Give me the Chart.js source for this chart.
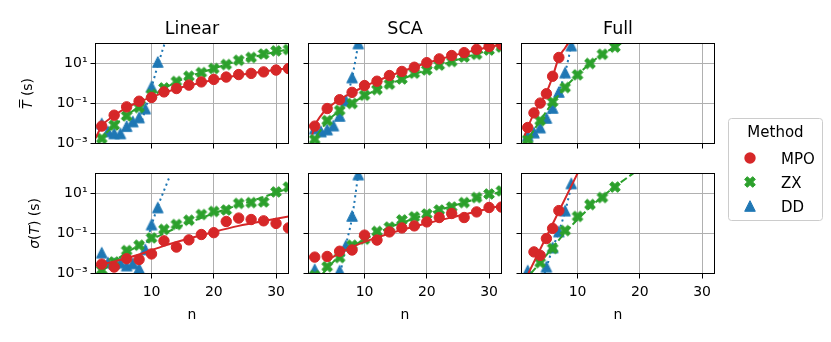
<!DOCTYPE html>
<html>
<head>
<meta charset="utf-8">
<script src="https://cdn.jsdelivr.net/npm/chart.js@4.4.1/dist/chart.umd.min.js"></script>
<style>
  body { margin: 0; background: #fff; }
  #wrap { position: relative; width: 831px; height: 342px; }
  #wrap canvas { position: absolute; left: 0; top: 0; }
</style>
</head>
<body>
<div id="wrap">
  <canvas id="p0" width="831" height="342"></canvas>
  <canvas id="p1" width="831" height="342"></canvas>
  <canvas id="p2" width="831" height="342"></canvas>
  <canvas id="p3" width="831" height="342"></canvas>
  <canvas id="p4" width="831" height="342"></canvas>
  <canvas id="p5" width="831" height="342"></canvas>
</div>
<script>
// ---- data (times in seconds) ----
const methods = ['MPO', 'ZX', 'DD'];
const columns = ['Linear', 'SCA', 'Full'];
const xTicks = [10, 20, 30];
const yTicks = [1e-3, 1e-1, 1e1];
const yTickLabels = ['10⁻³', '10⁻¹', '10¹'];
const nEven = [2, 4, 6, 8, 10, 12, 14, 16, 18, 20, 22, 24, 26, 28, 30, 32];

// Linear, mean
const linMeanMPO = [7.4e-3, 0.026, 0.068, 0.13, 0.20, 0.38, 0.56, 0.83, 1.2, 1.6, 2.1, 2.8, 3.2, 3.8, 4.7, 5.6];
const linMeanZX = [1.8e-3, 8.3e-3, 0.024, 0.063, 0.28, 0.60, 1.26, 2.3, 3.5, 5.6, 8.9, 14.5, 20, 30, 43, 50];
const linMeanDDn = [2, 3, 4, 5, 6, 7, 8, 9, 10, 11];
const linMeanDD = [0.010, 4.0e-3, 3.2e-3, 3.2e-3, 7.4e-3, 0.0126, 0.020, 0.056, 0.71, 12];
const linMeanMPOFitN = [1, 2, 4, 6, 8, 12, 16, 20, 24, 28, 32];
const linMeanMPOFit = [1.8e-3, 7.4e-3, 0.025, 0.063, 0.12, 0.35, 0.79, 1.5, 2.6, 4.0, 5.9];
const linMeanZXFitN = [1, 2, 4, 6, 8, 10, 12, 16, 20, 24, 28, 32];
const linMeanZXFit = [4.0e-4, 1.7e-3, 7.9e-3, 0.025, 0.071, 0.21, 0.56, 2.2, 5.6, 13.5, 28, 52];
const linMeanDDFitN = [8.5, 9, 10, 11, 12, 12.5];
const linMeanDDFit = [0.014, 0.050, 0.63, 7.9, 79, 250];

// SCA, mean
const scaMeanMPO = [7.4e-3, 0.056, 0.155, 0.36, 0.79, 1.3, 2.5, 4.0, 6.5, 11, 17, 25, 35, 51, 71, 87];
const scaMeanZX = [1.6e-3, 0.014, 0.045, 0.10, 0.26, 0.50, 0.93, 1.7, 3.3, 4.8, 8.3, 12.6, 21, 29, 47, 66];
const scaMeanDDn = [2, 3, 4, 5, 6, 7, 8, 9];
const scaMeanDD = [5.6e-3, 4.0e-3, 5.0e-3, 7.9e-3, 0.024, 0.14, 2.0, 100];
const scaMeanMPOFitN = [1.6, 2, 3, 4, 6, 8, 10, 12, 16, 20, 24, 28, 32];
const scaMeanMPOFit = [2.8e-3, 7.4e-3, 0.025, 0.054, 0.16, 0.35, 0.71, 1.35, 4.0, 10.5, 24, 48, 89];
const scaMeanZXFitN = [1.4, 2, 4, 6, 8, 10, 12, 16, 20, 24, 28, 32];
const scaMeanZXFit = [8.9e-4, 1.7e-3, 0.0126, 0.043, 0.107, 0.24, 0.50, 1.66, 4.8, 12.6, 30, 66];
const scaMeanDDFitN = [7, 7.5, 8, 8.5, 9, 9.3];
const scaMeanDDFit = [0.126, 0.45, 2.0, 12.6, 100, 316];

// Full, mean
const fullMeanMPOn = [2, 3, 4, 5, 6, 7];
const fullMeanMPO = [6.3e-3, 0.034, 0.105, 0.31, 2.3, 20];
const fullMeanZXn = [2, 4, 6, 8, 10, 12, 14, 16];
const fullMeanZX = [1.6e-3, 0.014, 0.12, 0.63, 2.7, 10, 29, 66];
const fullMeanDDn = [2, 3, 4, 5, 6, 7, 8, 9];
const fullMeanDD = [2.5e-3, 3.5e-3, 6.3e-3, 0.019, 0.060, 0.38, 3.5, 79];
const fullMeanMPOFitN = [1.5, 2, 3, 4, 5, 6, 7, 8, 8.6];
const fullMeanMPOFit = [2.5e-3, 6.3e-3, 0.032, 0.105, 0.35, 2.2, 20, 60, 115];
const fullMeanZXFitN = [1.3, 2, 4, 6, 8, 10, 12, 14, 16, 17];
const fullMeanZXFit = [7.9e-4, 1.6e-3, 0.014, 0.11, 0.63, 2.7, 10, 29, 66, 100];
const fullMeanDDFitN = [5, 6, 7, 8, 9, 9.2];
const fullMeanDDFit = [0.018, 0.060, 0.38, 3.5, 79, 158];

// Linear, std
const linSdMPO = [2.95e-3, 2.1e-3, 5.5e-3, 5.0e-3, 9.5e-3, 0.043, 0.021, 0.048, 0.089, 0.11, 0.40, 0.59, 0.50, 0.43, 0.32, 0.19];
const linSdZX = [1.5e-3, 3.8e-3, 0.014, 0.026, 0.060, 0.16, 0.28, 0.46, 0.89, 1.26, 1.5, 3.2, 3.5, 3.8, 12, 21];
const linSdDDn = [2, 3, 4, 5, 6, 7, 8, 9, 10, 11];
const linSdDD = [0.011, 3.5e-3, 3.2e-3, 3.5e-3, 2.5e-3, 3.2e-3, 1.8e-3, 0.016, 0.28, 2.0];
const linSdMPOFitN = [1, 4, 8, 12, 16, 20, 24, 28, 32];
const linSdMPOFit = [2.4e-3, 4.0e-3, 8.9e-3, 0.024, 0.056, 0.12, 0.24, 0.42, 0.71];
const linSdZXFitN = [1, 2, 4, 6, 10, 14, 18, 22, 26, 32];
const linSdZXFit = [5.0e-4, 1.26e-3, 4.0e-3, 0.011, 0.050, 0.19, 0.60, 1.66, 4.2, 17.8];
const linSdDDFitN = [8.8, 9, 10, 11, 12, 12.85];
const linSdDDFit = [0.010, 0.018, 0.25, 2.2, 14, 63];

// SCA, std
const scaSdMPO = [6.6e-3, 7.1e-3, 0.013, 0.015, 0.083, 0.047, 0.12, 0.19, 0.24, 0.38, 0.63, 1.0, 0.63, 1.2, 2.0, 2.1];
const scaSdZX = [7.9e-4, 2.2e-3, 6.3e-3, 0.026, 0.052, 0.126, 0.21, 0.48, 0.68, 0.95, 1.5, 2.1, 3.5, 6.3, 9.5, 13.5];
const scaSdDDn = [2, 6, 7, 8, 9];
const scaSdDD = [1.6e-3, 1.4e-3, 0.025, 0.76, 89];
const scaSdMPOFitN = [4, 6, 8, 10, 14, 20, 26, 32];
const scaSdMPOFit = [4.5e-3, 0.0105, 0.021, 0.038, 0.10, 0.32, 0.89, 2.5];
const scaSdZXFitN = [3.3, 6, 8, 10, 14, 18, 22, 26, 32];
const scaSdZXFit = [1.0e-3, 7.9e-3, 0.022, 0.050, 0.20, 0.56, 1.5, 3.5, 12.6];
const scaSdDDFitN = [6.3, 7, 8, 9, 9.2];
const scaSdDDFit = [2.0e-3, 0.025, 0.63, 89, 200];

// Full, std
const fullSdMPOn = [3, 4, 5, 6, 7];
const fullSdMPO = [0.012, 8.1e-3, 0.056, 0.18, 1.4];
const fullSdZXn = [4, 6, 8, 10, 12, 14, 16];
const fullSdZX = [3.5e-3, 0.018, 0.14, 0.71, 2.8, 6.3, 21];
const fullSdDDn = [2, 5, 6, 7, 8, 9];
const fullSdDD = [1.4e-3, 2.2e-3, 0.020, 0.126, 1.4, 32];
const fullSdMPOFitN = [2, 6, 10.2];
const fullSdMPOFit = [8.7e-4, 0.30, 135];
const fullSdZXFitN = [2.5, 4, 6, 8, 10, 12, 14, 16, 19];
const fullSdZXFit = [1.0e-3, 3.5e-3, 0.020, 0.11, 0.50, 2.0, 7.1, 22, 105];
const fullSdDDFitN = [4.7, 6, 7, 8, 9.1];
const fullSdDDFit = [1.0e-3, 0.018, 0.126, 1.26, 32];

// ---- drawing ----
const FONT = 'DejaVu Sans';
Chart.defaults.font.family = FONT;
const RED = '#d62728', GREEN = '#2ca02c', BLUE = '#1f77b4';
const colLeft = [95.5, 308.5, 521.5];
const rowTop = [43.5, 173.5];
const PW = 193, PH = 100, YW = 50, XH = 30;

function pts(xs, ys) {
  return xs.map((x, i) => ({x: x, y: ys[i]}));
}

function markerImg(kind, color) {
  const c = document.createElement('canvas');
  c.width = 18; c.height = 18;
  const g = c.getContext('2d');
  g.translate(9, 9);
  g.fillStyle = color; g.strokeStyle = color; g.lineWidth = 1;
  g.beginPath();
  if (kind === 'tri') {
    g.moveTo(0, -5.3); g.lineTo(-5.3, 5.3); g.lineTo(5.3, 5.3); g.closePath();
  } else {
    const a = 5.7, b = 1.9;
    const plus = [[-b,-a],[b,-a],[b,-b],[a,-b],[a,b],[b,b],[b,a],[-b,a],[-b,b],[-a,b],[-a,-b],[-b,-b]];
    const r = Math.SQRT1_2;
    plus.forEach((p, i) => {
      const x = (p[0] - p[1]) * r, y = (p[0] + p[1]) * r;
      if (i === 0) g.moveTo(x, y); else g.lineTo(x, y);
    });
    g.closePath();
  }
  g.fill(); g.stroke();
  return c;
}
const xImg = markerImg('x', GREEN);
const triImg = markerImg('tri', BLUE);

function scat(data, color, style) {
  return {data: data, showLine: false, pointStyle: style, pointRadius: style === 'circle' ? 5.2 : 5,
    pointBorderWidth: 1, pointBackgroundColor: color, pointBorderColor: color, clip: 0};
}
function fitLine(data, color, dash) {
  return {data: data, showLine: true, pointRadius: 0, borderColor: color, borderWidth: 2,
    borderDash: dash, cubicInterpolationMode: 'monotone', clip: 0};
}

function drawRuns(ctx, runs, x, cy) {
  const size = 13.9;
  const fonts = runs.map(r => (r.it ? 'italic ' : '') + size + 'px "' + FONT + '"');
  const widths = runs.map((r, i) => { ctx.font = fonts[i]; return ctx.measureText(r.t).width; });
  const total = widths.reduce((s, w) => s + w, 0);
  ctx.save();
  ctx.translate(x, cy);
  ctx.rotate(-Math.PI / 2);
  ctx.textAlign = 'left';
  let px = -total / 2;
  runs.forEach((r, i) => {
    ctx.font = fonts[i];
    ctx.fillText(r.t, px, 0);
    if (r.over) ctx.fillRect(px + 1.5, -size * 0.9, widths[i] - 0.5, 1);
    px += widths[i];
  });
  ctx.restore();
}

function drawLegend(ctx) {
  ctx.fillStyle = 'rgba(255,255,255,0.8)';
  ctx.strokeStyle = '#cccccc';
  ctx.lineWidth = 1;
  ctx.beginPath();
  ctx.roundRect(728.5, 118.5, 94, 102, 3);
  ctx.fill(); ctx.stroke();
  ctx.fillStyle = '#000';
  ctx.font = '15px "' + FONT + '"';
  ctx.textAlign = 'center';
  ctx.fillText('Method', 775.5, 136.5);
  ctx.textAlign = 'left';
  methods.forEach((m, i) => {
    const y = 158 + i * 24;
    if (i === 0) {
      ctx.fillStyle = RED;
      ctx.beginPath(); ctx.arc(750, y, 5.7, 0, Math.PI * 2); ctx.fill();
    } else {
      ctx.drawImage(i === 1 ? xImg : triImg, 741, y - 9);
    }
    ctx.fillStyle = '#000';
    ctx.fillText(m, 781, y + 5.5);
  });
}

const deco = {
  id: 'deco',
  afterDraw(chart, args, o) {
    const ctx = chart.ctx, a = chart.chartArea;
    const cx = (a.left + a.right) / 2;
    ctx.save();
    ctx.strokeStyle = '#000';
    ctx.lineWidth = 1;
    ctx.strokeRect(a.left, a.top, a.right - a.left, a.bottom - a.top);
    ctx.fillStyle = '#000';
    ctx.textAlign = 'center';
    ctx.textBaseline = 'alphabetic';
    if (o.title) {
      ctx.font = '17.5px "' + FONT + '"';
      ctx.fillText(o.title, cx, a.top - 9.5);
    }
    if (o.xlabel) {
      ctx.font = '13.9px "' + FONT + '"';
      ctx.fillText(o.xlabel, cx, a.bottom + 45.5);
    }
    if (o.ylabel) drawRuns(ctx, o.ylabel, o.ylabelX, (a.top + a.bottom) / 2);
    if (o.legend) drawLegend(ctx);
    ctx.restore();
  }
};

const panels = [
  {col: 0, row: 0, mpo: pts(nEven, linMeanMPO), zx: pts(nEven, linMeanZX), dd: pts(linMeanDDn, linMeanDD),
   mpoFit: pts(linMeanMPOFitN, linMeanMPOFit), zxFit: pts(linMeanZXFitN, linMeanZXFit), ddFit: pts(linMeanDDFitN, linMeanDDFit)},
  {col: 1, row: 0, mpo: pts(nEven, scaMeanMPO), zx: pts(nEven, scaMeanZX), dd: pts(scaMeanDDn, scaMeanDD),
   mpoFit: pts(scaMeanMPOFitN, scaMeanMPOFit), zxFit: pts(scaMeanZXFitN, scaMeanZXFit), ddFit: pts(scaMeanDDFitN, scaMeanDDFit)},
  {col: 2, row: 0, mpo: pts(fullMeanMPOn, fullMeanMPO), zx: pts(fullMeanZXn, fullMeanZX), dd: pts(fullMeanDDn, fullMeanDD),
   mpoFit: pts(fullMeanMPOFitN, fullMeanMPOFit), zxFit: pts(fullMeanZXFitN, fullMeanZXFit), ddFit: pts(fullMeanDDFitN, fullMeanDDFit)},
  {col: 0, row: 1, mpo: pts(nEven, linSdMPO), zx: pts(nEven, linSdZX), dd: pts(linSdDDn, linSdDD),
   mpoFit: pts(linSdMPOFitN, linSdMPOFit), zxFit: pts(linSdZXFitN, linSdZXFit), ddFit: pts(linSdDDFitN, linSdDDFit)},
  {col: 1, row: 1, mpo: pts(nEven, scaSdMPO), zx: pts(nEven, scaSdZX), dd: pts(scaSdDDn, scaSdDD),
   mpoFit: pts(scaSdMPOFitN, scaSdMPOFit), zxFit: pts(scaSdZXFitN, scaSdZXFit), ddFit: pts(scaSdDDFitN, scaSdDDFit)},
  {col: 2, row: 1, mpo: pts(fullSdMPOn, fullSdMPO), zx: pts(fullSdZXn, fullSdZX), dd: pts(fullSdDDn, fullSdDD),
   mpoFit: pts(fullSdMPOFitN, fullSdMPOFit), zxFit: pts(fullSdZXFitN, fullSdZXFit), ddFit: pts(fullSdDDFitN, fullSdDDFit)}
];

const yLabels = [
  [{t: 'T', it: true, over: true}, {t: ' (s)'}],
  [{t: 'σ', it: true}, {t: '('}, {t: 'T', it: true}, {t: ')'}, {t: ' (s)'}]
];
const yLabelX = [31.5, 39];

const tickFont = {family: FONT, size: 14};
const gridOpts = {color: '#b0b0b0', lineWidth: 1, tickColor: '#000', tickLength: 5, tickWidth: 1};

panels.forEach((p, i) => {
  const L = colLeft[p.col], T = rowTop[p.row];
  new Chart(document.getElementById('p' + i), {
    type: 'scatter',
    data: {
      datasets: [
        fitLine(p.mpoFit, RED, []), scat(p.mpo, RED, 'circle'),
        fitLine(p.zxFit, GREEN, [7.5, 3.2]), scat(p.zx, GREEN, xImg),
        fitLine(p.ddFit, BLUE, [2.1, 3.4]), scat(p.dd, BLUE, triImg)
      ]
    },
    options: {
      responsive: false,
      animation: false,
      events: [],
      layout: {padding: {left: L - YW, top: T, right: 831 - L - PW, bottom: 342 - T - PH - XH}},
      plugins: {
        legend: {display: false},
        tooltip: {enabled: false},
        deco: {
          title: p.row === 0 ? columns[p.col] : null,
          xlabel: p.row === 1 ? 'n' : null,
          ylabel: p.col === 0 ? yLabels[p.row] : null,
          ylabelX: yLabelX[p.row],
          legend: i === panels.length - 1
        }
      },
      scales: {
        x: {
          type: 'linear', min: 1, max: 32,
          afterBuildTicks: s => { s.ticks = xTicks.map(v => ({value: v})); },
          afterFit: s => { s.height = XH; },
          ticks: {display: p.row === 1, padding: 5.5, color: '#000', font: tickFont, callback: v => String(v)},
          grid: gridOpts,
          border: {display: false}
        },
        y: {
          type: 'logarithmic', min: 1e-3, max: 1e2,
          afterBuildTicks: s => { s.ticks = yTicks.map(v => ({value: v})); },
          afterFit: s => { s.width = YW; },
          ticks: {display: p.col === 0, padding: 3, color: '#000', font: tickFont, callback: (v, idx) => yTickLabels[idx]},
          grid: gridOpts,
          border: {display: false}
        }
      }
    },
    plugins: [deco]
  });
});
</script>
</body>
</html>
